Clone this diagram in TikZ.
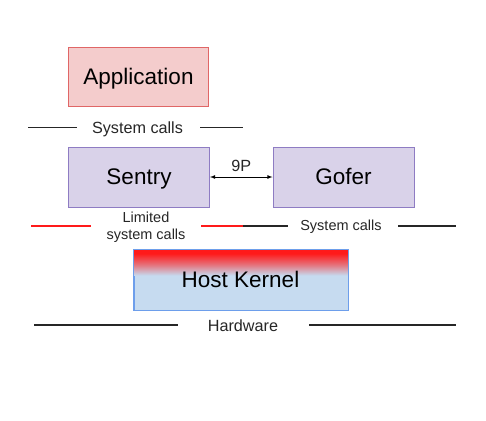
\documentclass[tikz,border=0pt]{standalone}
\usepackage{fontspec}
\setmainfont{Liberation Sans}
\begin{document}
\definecolor{appfill}{HTML}{F4CCCC}
\definecolor{appdraw}{HTML}{E06666}
\definecolor{sbfill}{HTML}{D9D2E9}
\definecolor{sbdraw}{HTML}{8E7CC3}
\definecolor{hkfill}{HTML}{C6DBF0}
\definecolor{hkdraw}{HTML}{6D9EEB}
\definecolor{sepred}{HTML}{FF1A1A}
\begin{tikzpicture}[x=1pt,y=-1pt,
  box/.style={draw, line width=1pt, inner sep=0pt, anchor=north west,
    font=\fontsize{22.5}{27}\selectfont, text height=16.2pt, text depth=2pt},
  lbl/.style={font=\fontsize{16.2}{19}\selectfont, inner sep=0pt, text=black!85},
  sep/.style={draw=black!85, line width=1.2pt},
  redsep/.style={draw=sepred, line width=2pt}]
\useasboundingbox (0,0) rectangle (486,420);

% user-space application
\node[box, fill=appfill, draw=appdraw, minimum width=140pt, minimum height=59pt]
  (app) at (68,47) {Application};

% sandbox components
\node[box, fill=sbfill, draw=sbdraw, minimum width=141pt, minimum height=60pt]
  (sentry) at (68,146.5) {Sentry};
\node[box, fill=sbfill, draw=sbdraw, minimum width=141pt, minimum height=60pt]
  (gofer) at (272.5,146.5) {Gofer};
\draw[<->, >=latex, line width=0.8pt] (sentry.east) -- node[lbl, above=5pt] {9P} (gofer.west);

% host kernel with red top edge fading into blue
\node[box, fill=hkfill, draw=hkdraw, minimum width=214pt, minimum height=60pt]
  (kernel) at (133.5,249.5) {};
\shade[top color=sepred, bottom color=hkfill, middle color=hkfill!45!sepred]
  ([yshift=-4pt]kernel.north west) rectangle ([yshift=-26pt]kernel.north east);
\fill[sepred] ([yshift=-0.5pt]kernel.north west) rectangle ([yshift=-4.2pt]kernel.north east);
\draw[draw=hkdraw, line width=1pt] (kernel.north west) rectangle (kernel.south east);
\node[font=\fontsize{22.5}{27}\selectfont, inner sep=0pt, text height=16.2pt, text depth=2pt]
  (hktext) at (240.5,280) {Host Kernel};

% boundary between application and sentry
\coordinate (s1a) at (28,127.5);  \coordinate (s1b) at (76.5,127.5);
\coordinate (s1c) at (200,127.5); \coordinate (s1d) at (243,127.5);
\draw[sep] (s1a) -- (s1b);
\draw[sep] (s1c) -- (s1d);
\node[lbl] (sc1) at (137.5,129.5) {System calls};

% boundary between sandbox and host kernel
\coordinate (s2a) at (31,226); \coordinate (s2b) at (91,226);
\coordinate (s2c) at (201,226); \coordinate (s2d) at (243,226);
\coordinate (s2e) at (288,226);
\coordinate (s2f) at (398,226); \coordinate (s2g) at (456,226);
\draw[redsep] (s2a) -- (s2b);
\draw[redsep] (s2c) -- (s2d);
\draw[sep] (s2d) -- (s2e);
\draw[sep] (s2f) -- (s2g);
\node[lbl, align=center, font=\fontsize{14.5}{17.5}\selectfont] (lsc) at (146,227) {Limited\\system calls};
\node[lbl, font=\fontsize{14.5}{17.5}\selectfont] (sc2) at (341,227) {System calls};

% boundary between host kernel and hardware
\coordinate (s3a) at (34,325); \coordinate (s3b) at (178,325);
\coordinate (s3c) at (309,325); \coordinate (s3d) at (456,325);
\draw[sep] (s3a) -- (s3b);
\draw[sep] (s3c) -- (s3d);
\node[lbl] (hw) at (243,325.5) {Hardware};
\end{tikzpicture}
\end{document}
